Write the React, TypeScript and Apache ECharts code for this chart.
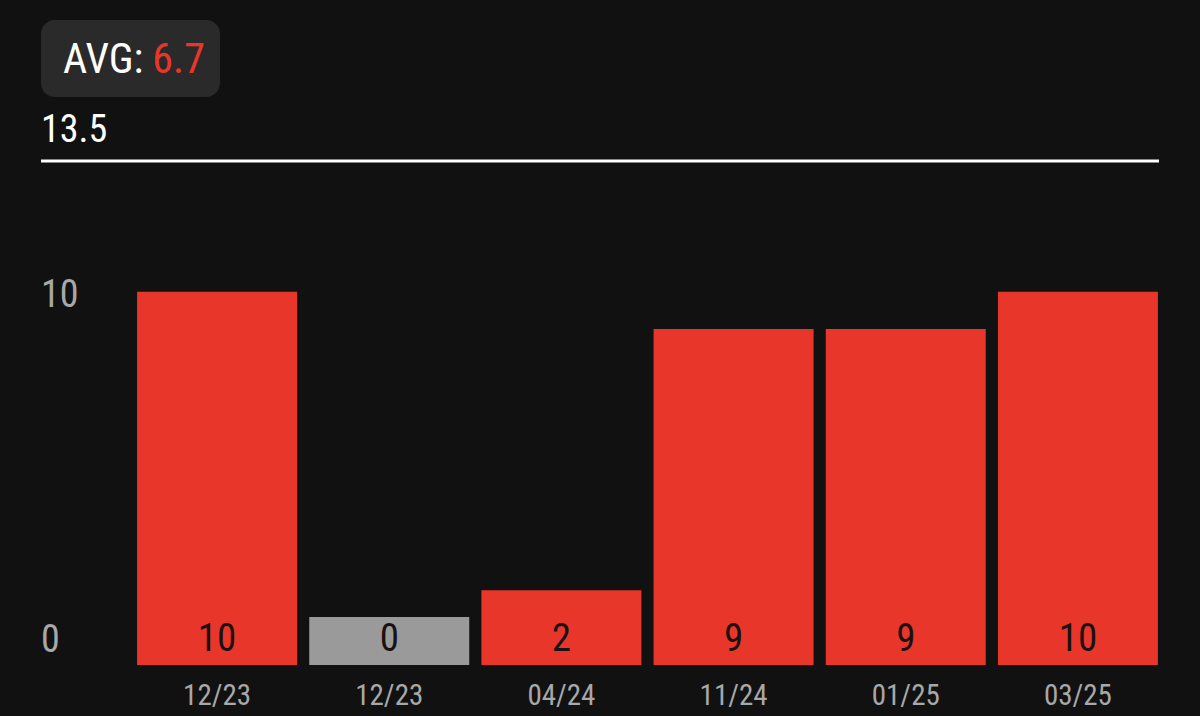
import React, { useEffect, useRef } from "react";
import * as echarts from "echarts";

// Scores per check-in period
const periods = ["12/23", "12/23", "04/24", "11/24", "01/25", "03/25"];
const scores = [10, 0, 2, 9, 9, 10];
const scaleMax = 13.5;

const RED = "#e9362a";
const GRAY = "#9a9a9a";
const BG = "#111111";
const FONT = "'Roboto Condensed', 'DejaVu Sans Condensed', sans-serif";

export default function App() {
  const ref = useRef<HTMLDivElement>(null);

  useEffect(() => {
    document.body.style.margin = "0";
    document.body.style.background = BG;
    const el = ref.current;
    if (!el) return;
    const chart = echarts.init(el, null, { renderer: "svg" });
    const avg = scores.reduce((a, b) => a + b, 0) / scores.length;

    chart.setOption({
      animation: false,
      backgroundColor: BG,
      grid: { left: 131, right: 36, top: 161, bottom: 51 },
      xAxis: {
        type: "category",
        data: periods,
        axisLine: { show: false },
        axisTick: { show: false },
        axisLabel: {
          color: "#a8a8a8",
          fontFamily: FONT,
          fontSize: 29,
          margin: 15,
        },
      },
      yAxis: {
        type: "value",
        min: 0,
        max: scaleMax,
        interval: 10,
        splitLine: { show: false },
        axisLine: { show: false },
        axisTick: { show: false },
        axisLabel: {
          showMaxLabel: true,
          align: "left",
          margin: 90,
          fontFamily: FONT,
          formatter: (v: number) => {
            if (v === scaleMax) return `{top|${v}}`;
            if (v === 0) return `{zero|${v}}`;
            return `{mid|${v}}`;
          },
          rich: {
            top: { color: "#ffffff", fontSize: 38, fontFamily: FONT, padding: [0, 0, 64, 0] },
            mid: { color: "#a8a8a8", fontSize: 38, fontFamily: FONT, padding: [4, 0, 0, 0] },
            zero: { color: "#a8a8a8", fontSize: 38, fontFamily: FONT, padding: [0, 0, 52, 0] },
          },
        },
      },
      series: [
        {
          type: "bar",
          data: scores,
          barWidth: 160,
          barMinHeight: 48,
          itemStyle: {
            color: (p: any) => (p.value === 0 ? GRAY : RED),
          },
          label: {
            show: true,
            position: "insideBottom",
            distance: 8,
            color: "#1a1212",
            fontFamily: FONT,
            fontSize: 39,
          },
        },
      ],
    });

    const yTop = chart.convertToPixel({ yAxisIndex: 0 }, scaleMax) as number;
    chart.setOption({
      graphic: [
        {
          type: "line",
          shape: { x1: 41, y1: yTop, x2: 1159, y2: yTop },
          style: { stroke: "#ffffff", lineWidth: 3 },
        },
        {
          type: "group",
          left: 41,
          top: 20,
          children: [
            {
              type: "rect",
              shape: { x: 0, y: 0, width: 179, height: 77, r: 14 },
              style: { fill: "#2a2a2a" },
            },
            {
              type: "text",
              x: 22,
              y: 38,
              style: {
                text: `{a|AVG:}{b|${avg.toFixed(1)}}`,
                verticalAlign: "middle",
                rich: {
                  a: { fill: "#ffffff", fontSize: 42, fontFamily: FONT },
                  b: { fill: RED, fontSize: 42, fontFamily: FONT, padding: [0, 0, 0, 9] },
                },
              },
            },
          ],
        },
      ],
    });

    return () => chart.dispose();
  }, []);

  return <div ref={ref} style={{ width: 1200, height: 716 }} />;
}
